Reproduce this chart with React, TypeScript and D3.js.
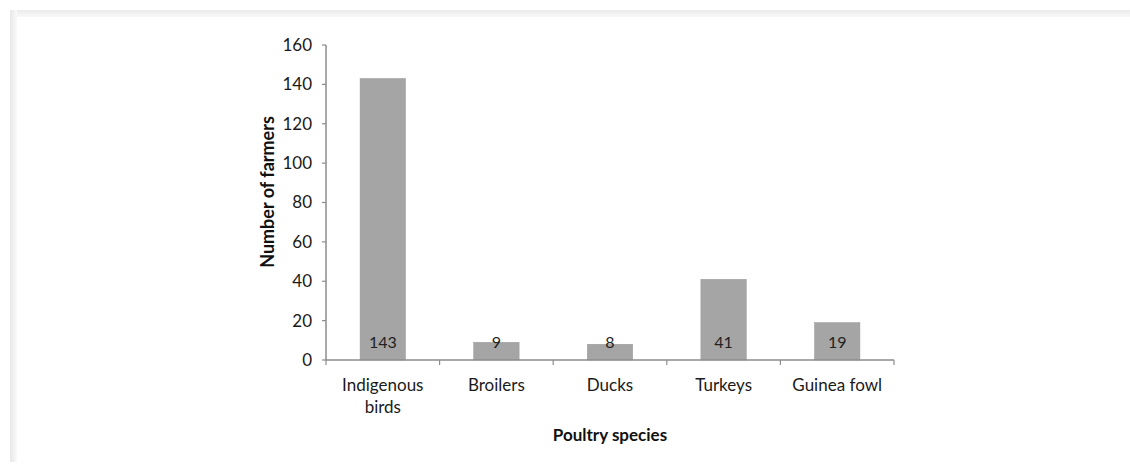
import React from "react";
import * as d3 from "d3";

const categories: string[][] = [["Indigenous", "birds"], ["Broilers"], ["Ducks"], ["Turkeys"], ["Guinea fowl"]];
const values: number[] = [143, 9, 8, 41, 19];
const yTicks: number[] = [0, 20, 40, 60, 80, 100, 120, 140, 160];
const xTitle = "Poultry species";
const yTitle = "Number of farmers";

const W = 1130;
const H = 464;
const FONT = "Lato, 'Open Sans', sans-serif";

export default function App() {
  const x0 = 326, x1 = 894, yTop = 45, yBot = 360;
  const keys = categories.map((c) => c.join(" "));
  const x = d3.scaleBand<string>().domain(keys).range([x0, x1]).paddingInner(0.6).paddingOuter(0.3);
  const xb = d3.scaleBand<string>().domain(keys).range([x0, x1]);
  const y = d3.scaleLinear().domain([0, 160]).range([yBot, yTop]);
  const axisColor = "#8c8c8c";
  return (
    <svg width={W} height={H} style={{ position: "absolute", left: 0, top: 0 }} fontFamily={FONT}>
      <defs>
        <linearGradient id="lg" x1="0" x2="1" y1="0" y2="0">
          <stop offset="0" stopColor="#e8e8e8" />
          <stop offset="1" stopColor="#fafafa" />
        </linearGradient>
        <linearGradient id="tg" x1="0" x2="0" y1="0" y2="1">
          <stop offset="0" stopColor="#ececec" />
          <stop offset="1" stopColor="#f8f8f8" />
        </linearGradient>
      </defs>
      <rect x={0} y={0} width={W} height={H} fill="#ffffff" />
      <rect x={10} y={10} width={W - 10} height={7} fill="url(#tg)" />
      <rect x={10} y={10} width={7} height={H - 12} fill="url(#lg)" />
      {/* bars */}
      {keys.map((k, i) => (
        <rect key={k} x={x(k)!} y={y(values[i])} width={x.bandwidth()} height={yBot - y(values[i])} fill="#a5a5a5" stroke="#9a9a9a" strokeWidth={0.5} />
      ))}
      {/* data labels */}
      {keys.map((k, i) => (
        <text key={k + "l"} x={x(k)! + x.bandwidth() / 2} y={347.5} textAnchor="middle" fontSize={16} fill="#222">
          {values[i]}
        </text>
      ))}
      {/* y axis */}
      <line x1={x0} x2={x0} y1={yTop} y2={yBot} stroke={axisColor} strokeWidth={1.5} />
      {yTicks.map((t) => (
        <g key={t}>
          <line x1={x0 - 4} x2={x0} y1={y(t)} y2={y(t)} stroke={axisColor} strokeWidth={1.2} />
          <text x={312} y={y(t)} dy="0.35em" textAnchor="end" fontSize={17} fill="#1a1a1a">
            {t}
          </text>
        </g>
      ))}
      {/* x axis */}
      <line x1={x0} x2={x1} y1={yBot} y2={yBot} stroke={axisColor} strokeWidth={1.5} />
      {[...keys.map((k) => xb(k)!), x1].map((p, i) => (
        <line key={"t" + i} x1={p} x2={p} y1={yBot} y2={yBot + 5} stroke={axisColor} strokeWidth={1.2} />
      ))}
      {categories.map((lines, i) => (
        <text key={"c" + i} x={xb(keys[i])! + xb.bandwidth() / 2} y={391} textAnchor="middle" fontSize={17} fill="#1a1a1a">
          {lines.map((ln, j) => (
            <tspan key={j} x={xb(keys[i])! + xb.bandwidth() / 2} dy={j === 0 ? 0 : 22}>
              {ln}
            </tspan>
          ))}
        </text>
      ))}
      <text x={(x0 + x1) / 2} y={441} textAnchor="middle" fontSize={17} fontWeight="bold" fill="#111">
        {xTitle}
      </text>
      <text transform={`translate(274,${192}) rotate(-90)`} textAnchor="middle" fontSize={18} fontWeight="bold" fill="#111">
        {yTitle}
      </text>
    </svg>
  );
}
